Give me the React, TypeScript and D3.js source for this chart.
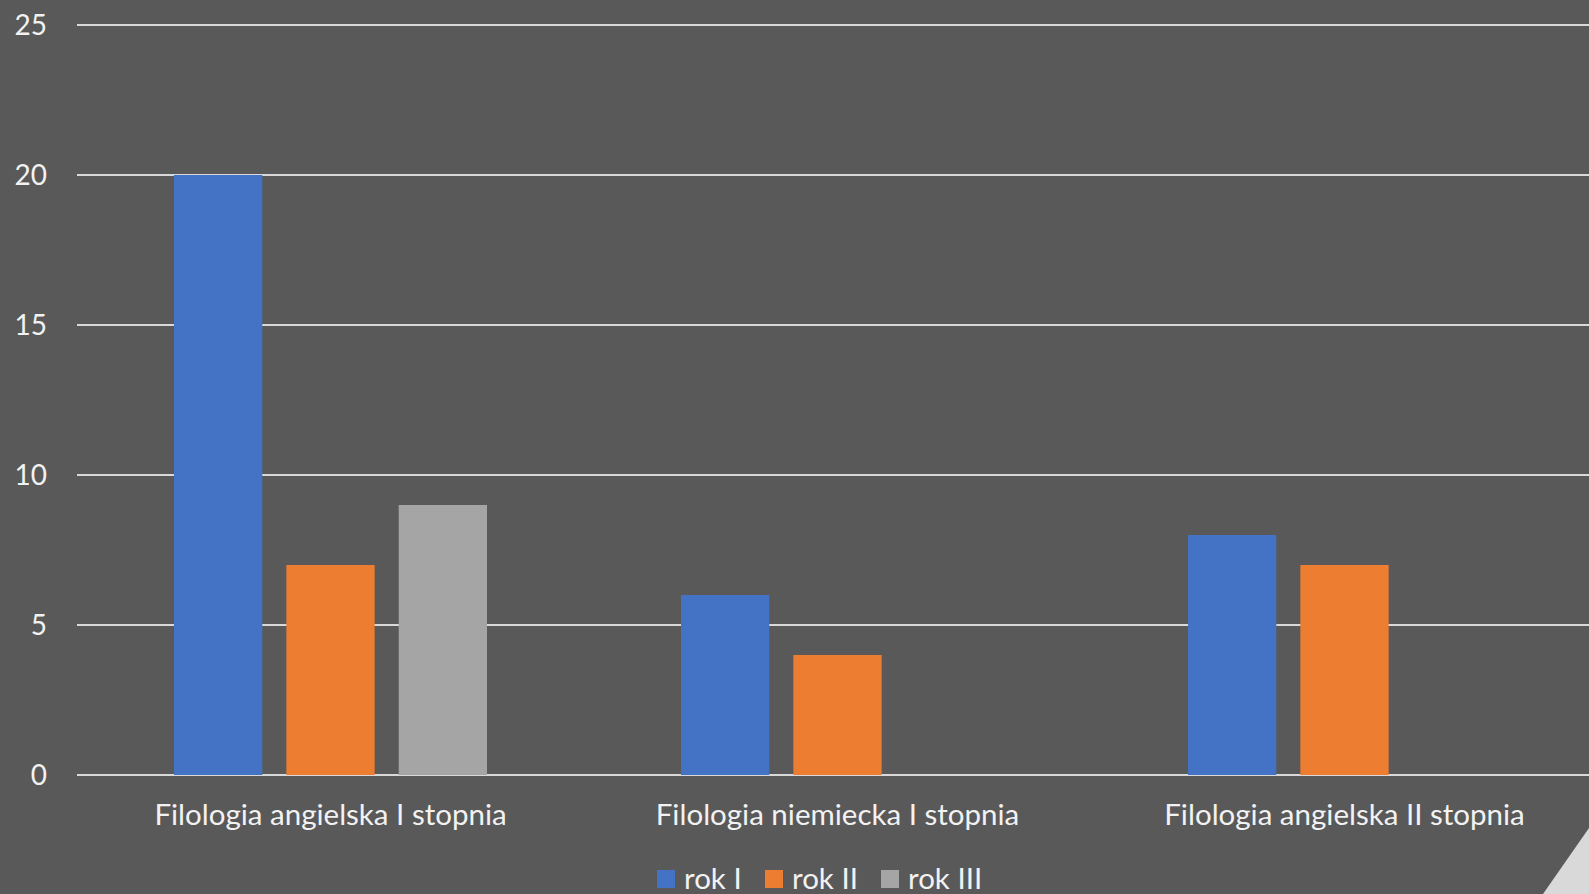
import React from 'react';
import * as d3 from 'd3';

const categories = [
  'Filologia angielska I stopnia',
  'Filologia niemiecka I stopnia',
  'Filologia angielska II stopnia',
];
const seriesNames = ['rok I', 'rok II', 'rok III'];
const rokI = [20, 6, 8];
const rokII = [7, 4, 7];
const rokIII: (number | null)[] = [9, null, null];
const yTicks = [0, 5, 10, 15, 20, 25];
const colors = ['#4472C4', '#ED7D31', '#A5A5A5'];

const W = 1589;
const H = 894;
const FONT = 'Lato, "Noto Sans", sans-serif';

const App = () => {
  const series = [rokI, rokII, rokIII];
  const x0 = d3.scaleBand().domain(categories).range([77, 1598]).paddingInner(0).paddingOuter(0);
  const x1 = d3
    .scaleBand()
    .domain(seriesNames)
    .range([97, x0.bandwidth() - 97])
    .paddingInner(0.214);
  const y = d3.scaleLinear().domain([0, 25]).range([775, 25]);

  return (
    <svg
      width={W}
      height={H}
      style={{ position: 'absolute', left: 0, top: 0, display: 'block' }}
    >
      <rect x={0} y={0} width={W} height={H} fill="#595959" />

      {yTicks.map((t) => (
        <g key={t}>
          <line x1={77} x2={W} y1={y(t)} y2={y(t)} stroke="#d9d9d9" strokeWidth={2} />
          <text
            x={47}
            y={y(t)}
            dy="0.35em"
            textAnchor="end"
            fill="#f2f2f2"
            fontSize={28}
            fontFamily={FONT}
          >
            {t}
          </text>
        </g>
      ))}

      {categories.map((c, ci) => (
        <g key={c} transform={`translate(${x0(c)},0)`}>
          {series.map((s, si) => {
            const v = s[ci];
            if (v == null) return null;
            return (
              <rect
                key={si}
                x={x1(seriesNames[si])}
                y={y(v)}
                width={x1.bandwidth()}
                height={y(0) - y(v)}
                fill={colors[si]}
              />
            );
          })}
          <text
            x={x0.bandwidth() / 2}
            y={825}
            textAnchor="middle"
            fill="#f2f2f2"
            fontSize={29.5}
            fontFamily={FONT}
          >
            {c}
          </text>
        </g>
      ))}

      {/* legend */}
      {(() => {
        const starts = [657, 765, 881];
        return seriesNames.map((n, i) => (
          <g key={n}>
            <rect x={starts[i]} y={870} width={18} height={18} fill={colors[i]} />
            <text x={starts[i] + 27} y={889} fill="#f2f2f2" fontSize={29.5} fontFamily={FONT}>
              {n}
            </text>
          </g>
        ));
      })()}

      <polygon points={`1543,${H} ${W},828 ${W},${H}`} fill="#d9d9d9" />
    </svg>
  );
};

export default App;
